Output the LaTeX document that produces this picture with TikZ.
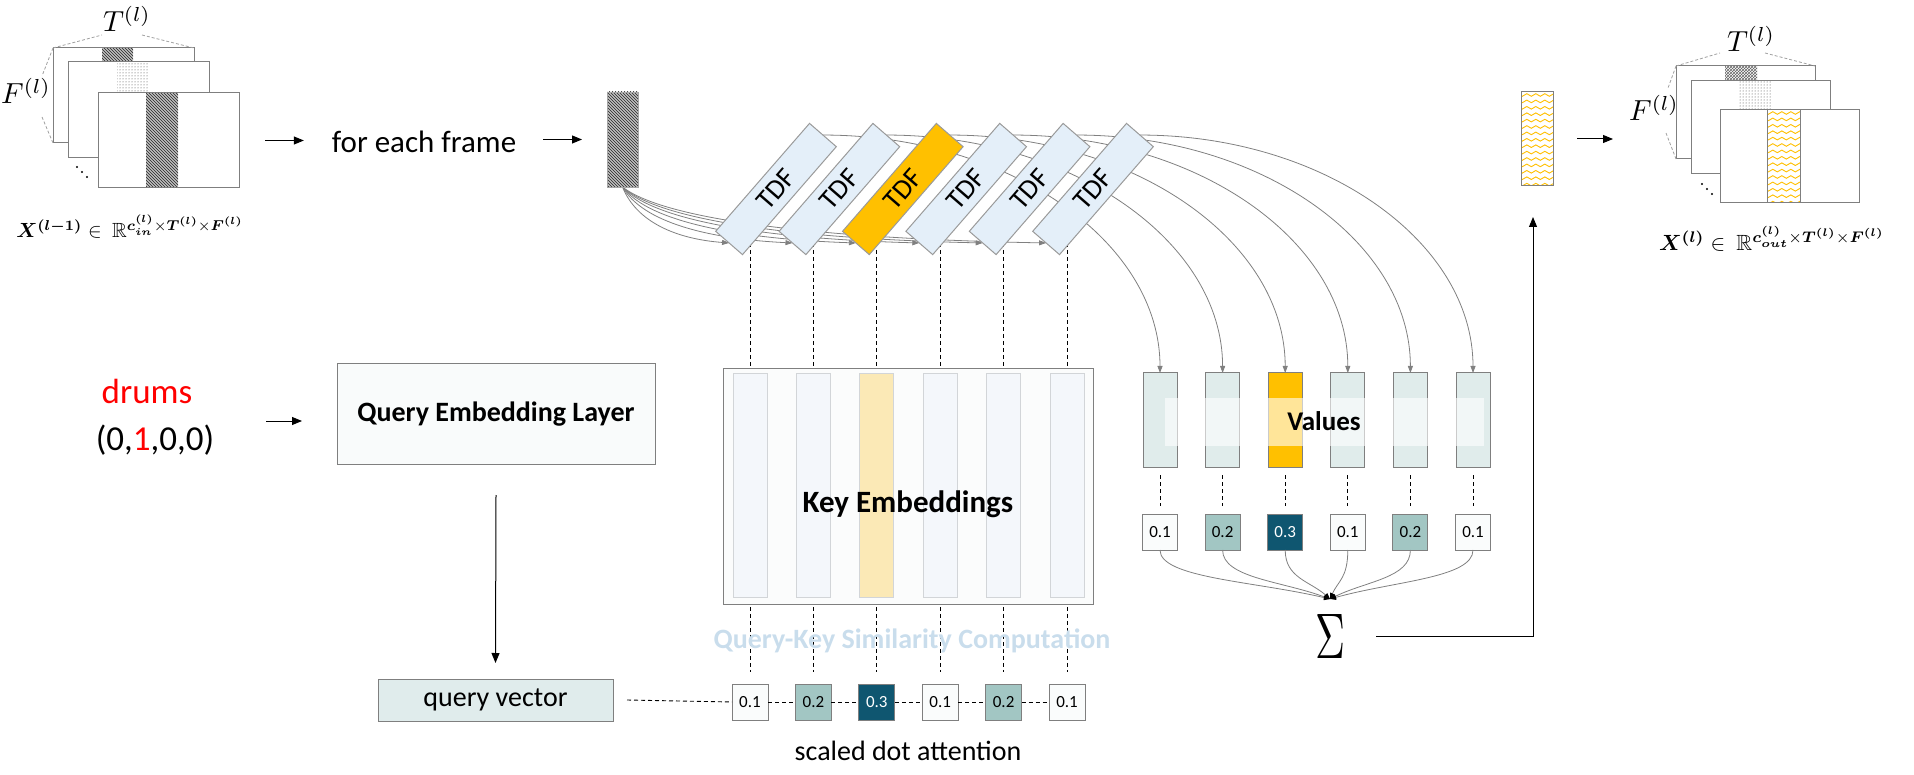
\documentclass[tikz,border=0pt]{standalone}
\usepackage{fontspec}
\setmainfont{Carlito}
\usepackage{amsmath,amssymb,bm}
\usepackage{graphicx}
\usetikzlibrary{arrows.meta,calc,patterns,decorations.pathmorphing}
\pgfdeclarelayer{bg}
\pgfsetlayers{bg,main}
\definecolor{bordergray}{HTML}{7F7F7F}
\definecolor{tdfborder}{HTML}{9A9A9A}
\definecolor{tdfblue}{HTML}{E4EFF9}
\definecolor{myorange}{HTML}{FFC000}
\definecolor{keyfill}{HTML}{FBFCFC}
\definecolor{stripfill}{HTML}{F4F7FB}
\definecolor{stripyellow}{HTML}{FBE9B6}
\definecolor{stripline}{HTML}{D2D5D8}
\definecolor{valfill}{HTML}{E0ECEB}
\definecolor{qvfill}{HTML}{E0ECEC}
\definecolor{qelfill}{HTML}{F9FBFB}
\definecolor{wlow}{HTML}{FAFCFC}
\definecolor{wmid}{HTML}{A2C6C3}
\definecolor{whigh}{HTML}{0F5670}
\definecolor{simtext}{HTML}{C9DDEC}
\definecolor{dashgray}{HTML}{A0A0A0}
\definecolor{linegray}{HTML}{808080}
\begin{document}
\begin{tikzpicture}[x=1pt,y=-1pt,
  every node/.style={inner sep=0pt, outer sep=0pt},
  txt/.style={font=\fontsize{28}{34}\selectfont},
  frame/.style={draw=bordergray, line width=1pt, fill=white},
  rim/.style={draw=bordergray, line width=1pt},
  hatch/.style={preaction={fill=gray!50}, pattern=north west lines, pattern color=black!85},
  dotsfill/.style={preaction={fill=white}, pattern=dots, pattern color=black!75},
  xhatch/.style={preaction={fill=white}, pattern=crosshatch, pattern color=black!60},
  waves/.style={path picture={\foreach \yy in {0,...,15} \draw[myorange, line width=0.9pt, decorate, decoration={snake, amplitude=1.3pt, segment length=9pt}] ($(path picture bounding box.north west)+(-6,3+6.4*\yy)$) -- ($(path picture bounding box.north east)+(6,3+6.4*\yy)$);}},
  guide/.style={draw=dashgray, line width=0.8pt, dash pattern=on 3pt off 2pt},
  arr/.style={line width=1pt, -{Triangle[length=10pt,width=8pt]}},
  garr/.style={draw=linegray, line width=0.8pt, -{Triangle[length=7pt,width=5pt]}},
  dsh/.style={black, line width=0.9pt, dash pattern=on 4pt off 3pt},
  tdfbox/.style={draw=tdfborder, line width=1pt, minimum width=143pt, minimum height=35.5pt, rotate=49, font=\fontsize{28}{34}\selectfont},
  keystrip/.style={draw=stripline, line width=0.9pt, minimum width=34pt, minimum height=224pt},
  valbox/.style={draw=bordergray, line width=1pt, minimum width=34pt, minimum height=94pt},
  wbox/.style={draw=bordergray, line width=1pt, minimum width=35pt, minimum height=36pt, font=\fontsize{17}{20}\selectfont}
]
\useasboundingbox (0,0) rectangle (1914,775);

% ---------- left input stack ----------
\draw[frame] (53,48) rectangle (194,143);
\path[hatch] (102,48) rectangle (133,143);
\draw[rim] (53,48) rectangle (194,143);
\draw[frame] (68,62) rectangle (209,158);
\path[dotsfill] (117,62) rectangle (148,158);
\draw[rim] (68,62) rectangle (209,158);
\node[frame, minimum width=141pt, minimum height=95pt] (lfront) at (168.5,140.5) {};
\path[hatch] (146,93) rectangle (178,188);
\draw[rim] (lfront.north west) rectangle (lfront.south east);
\fill (77,167) circle (1.2) (82,172) circle (1.2) (87,177) circle (1.2);
\draw[guide] (53,48) -- (102,35);
\draw[guide] (142,35) -- (194,48);
\draw[guide] (53,48) -- (42,76);
\draw[guide] (42,117) -- (53,143);
\node (tl) at (127,19) {\scalebox{2.9}{$T^{(l)}$}};
\node (fl) at (26,91) {\scalebox{2.9}{$F^{(l)}$}};
\node (xin) at (130,227) {\scalebox{2.05}{$\bm{X}^{\bm{(l-1)}}\in\ \mathbb{R}^{\bm{c}_{\bm{in}}^{\bm{(l)}}\times\bm{T}^{\bm{(l)}}\times\bm{F}^{\bm{(l)}}}$}};

% ---------- for each frame ----------
\node[font=\fontsize{31}{36}\selectfont, anchor=base] (fef) at (424,153) {for each frame};
\node[draw=gray!70, line width=0.8pt, minimum width=31pt, minimum height=95pt, hatch] (src) at (622.5,139.5) {};
\draw[arr] ($(lfront.east)+(26,0)$) -- ($(fef.west |- lfront.east)+(-28,0)$);
\draw[arr] ($(fef.east |- src.west)+(27,0)$) -- ($(src.west)+(-25,0)$);

% ---------- TDF blocks ----------
\foreach \q/\fc in {1/tdfblue,2/tdfblue,3/myorange,4/tdfblue,5/tdfblue,6/tdfblue}
  \node[tdfbox, fill=\fc] (t\q) at ({776+63.4*(\q-1)},189) {TDF};

% ---------- key embeddings ----------
\node[draw=bordergray, line width=1pt, fill=keyfill, minimum width=370pt, minimum height=235pt] (kbox) at (908,486.5) {};
\foreach \q/\fc in {1/stripfill,2/stripfill,3/stripyellow,4/stripfill,5/stripfill,6/stripfill}
  \node[keystrip, fill=\fc] (k\q) at ({750+63.4*(\q-1)},485) {};
\node[font=\bfseries\fontsize{31}{36}\selectfont, anchor=base] (keylbl) at (908,512) {Key Embeddings};

% ---------- query side ----------
\node[font=\fontsize{35}{42}\selectfont, anchor=base, text=red] (drums) at (147,403) {drums};
\node[font=\fontsize{35}{42}\selectfont, anchor=base] (vec) at (155,450) {(0,\textcolor{red}{1},0,0)};
\node[draw=bordergray, line width=1pt, fill=qelfill, minimum width=318pt, minimum height=100pt, font=\bfseries\fontsize{28}{34}\selectfont] (qel) at (496,414) {Query Embedding Layer};
\draw[arr] ($(qel.west)+(-71,7)$) -- ($(qel.west)+(-35,7)$);
\node[draw=bordergray, line width=1pt, fill=qvfill, minimum width=235pt, minimum height=42pt, txt] (qv) at (495.5,700) {query vector};
\draw[arr] ($(qel.south)+(0,31)$) -- ($(qv.north)+(0,-16)$);

% ---------- similarity scores ----------
\foreach \q/\val/\fc/\tc in {1/0.1/wlow/black,2/0.2/wmid/black,3/0.3/whigh/white,4/0.1/wlow/black,5/0.2/wmid/black,6/0.1/wlow/black}
  \node[wbox, minimum width=36pt, fill=\fc, text=\tc] (s\q) at ({750+63.4*(\q-1)},702) {\val};
\draw[dsh] ($(qv.east)+(14,0)$) -- (s1.west);
\foreach \a/\b in {1/2,2/3,3/4,4/5,5/6}
  \draw[dsh] (s\a.east) -- (s\b.west);
\node[font=\bfseries\fontsize{28}{34}\selectfont, text=simtext, anchor=base] (simlbl) at (912,648) {Query-Key Similarity Computation};
\node[txt, anchor=base] (sdalbl) at (908,760) {scaled dot attention};

% ---------- values ----------
\foreach \q/\fc in {1/valfill,2/valfill,3/myorange,4/valfill,5/valfill,6/valfill}
  \node[valbox, fill=\fc] (v\q) at ({1160+62.6*(\q-1)},420) {};
\fill[white, fill opacity=0.6] (1165,398) rectangle (1484,446);
\node[font=\bfseries\fontsize{27}{32}\selectfont, anchor=base] (vallbl) at (1324,430) {Values};
\foreach \q/\val/\fc/\tc in {1/0.1/wlow/black,2/0.2/wmid/black,3/0.3/whigh/white,4/0.1/wlow/black,5/0.2/wmid/black,6/0.1/wlow/black}
  \node[wbox, fill=\fc, text=\tc] (w\q) at ({1160+62.6*(\q-1)},532) {\val};
\foreach \q in {1,...,6}
  \draw[dsh] ($(v\q.south)+(0,8)$) -- ($(w\q.north)+(0,-8)$);

% ---------- sum ----------
\node (sig) at (1330,636) {\scalebox{4.15}[6.44]{$\Sigma$}};
\coordinate (conv) at (1330,599);
\foreach \q/\c in {1/-76.5,2/-48.3,3/-20.2,4/8,5/36.2,6/64.4}
  \draw[draw=linegray, line width=0.8pt, -{Triangle[length=6pt,width=5pt,color=black]}] (w\q.south) .. controls ($(w\q.south)+(0,28)$) and ($(conv)+(\c,-18)$) .. (conv);

% ---------- output ----------
\node[draw=bordergray, line width=1pt, fill=white, minimum width=32pt, minimum height=94pt, waves] (ystrip) at (1537,139) {};
\coordinate (uptip) at (1533,217);
\draw[arr] ($(sig.east)+(31,0)$) -| (uptip);
\draw[arr] ($(ystrip.east)+(24,0)$) -- ($(ystrip.east)+(60,0)$);

% ---------- right output stack ----------
\draw[frame] (1676,66) rectangle (1815,159);
\path[xhatch] (1725,66) rectangle (1757,159);
\draw[rim] (1676,66) rectangle (1815,159);
\draw[frame] (1691,81) rectangle (1830,174);
\path[dotsfill] (1739,81) rectangle (1771,174);
\draw[rim] (1691,81) rectangle (1830,174);
\node[frame, minimum width=139pt, minimum height=93pt] (rfront) at (1789.5,156.5) {};
\path[waves] (1767,110) rectangle (1800,203);
\draw[rim] (1767,110) -- (1767,203) (1800,110) -- (1800,203);
\draw[rim] (rfront.north west) rectangle (rfront.south east);
\fill (1702,184) circle (1.2) (1707,189) circle (1.2) (1712,194) circle (1.2);
\draw[guide] (1676,66) -- (1720,53);
\draw[guide] (1765,53) -- (1815,66);
\draw[guide] (1676,66) -- (1668,88);
\draw[guide] (1666,133) -- (1676,159);
\node (tr) at (1751,39) {\scalebox{2.9}{$T^{(l)}$}};
\node (fr) at (1654,108) {\scalebox{2.9}{$F^{(l)}$}};
\node (xout) at (1772,239) {\scalebox{2.2}{$\bm{X}^{\bm{(l)}}\in\ \mathbb{R}^{\bm{c}_{\bm{out}}^{\bm{(l)}}\times\bm{T}^{\bm{(l)}}\times\bm{F}^{\bm{(l)}}}$}};

% ---------- connectors behind ----------
\begin{pgfonlayer}{bg}
\foreach \q in {1,...,6}
  \draw[dsh] (s\q.north |- t\q.west) -- ($(s\q.north)+(0,-12)$);
\foreach \q/\a/\b in {1/14/53,2/20/85,3/26/117,4/33/148,5/39/180,6/45/212}
  \draw[garr] (src.south) .. controls ($(src.south)+(\a,35)$) and ($(t\q.west)+(-\b,-4)$) .. (t\q.west);
\foreach \q in {1,...,6}
  \draw[garr] (t\q.east) .. controls ($(t\q.east)!0.552!(t\q.east -| v\q.north)$) and ($(v\q.north)!0.552!(t\q.east -| v\q.north)$) .. (v\q.north);
\end{pgfonlayer}
\end{tikzpicture}
\end{document}
